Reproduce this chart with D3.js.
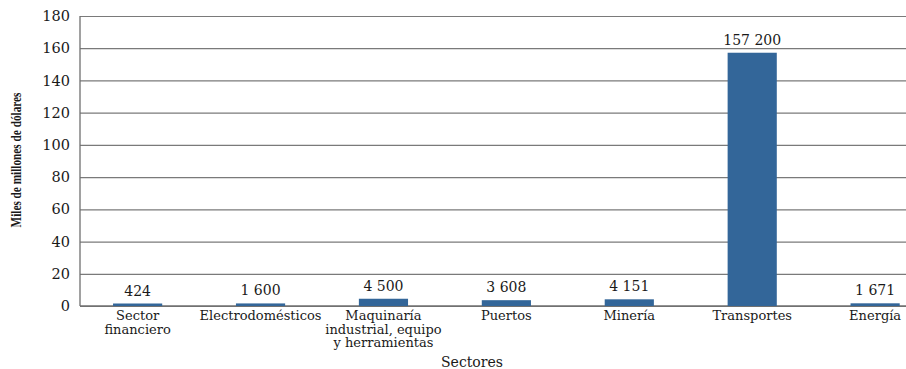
<!DOCTYPE html>
<html>
<head>
<meta charset="utf-8">
<script src="https://cdn.jsdelivr.net/npm/d3@7"></script>
<style>
  body { margin: 0; background: #fff; }
  text { font-family: "DejaVu Serif", serif; fill: #1a1a1a; }
</style>
</head>
<body>
<div id="plot"></div>
<script>
// sectores y montos (millones de dólares)
var sectores = [
  ["Sector", "financiero"],
  ["Electrodomésticos"],
  ["Maquinaría", "industrial, equipo", "y herramientas"],
  ["Puertos"],
  ["Minería"],
  ["Transportes"],
  ["Energía"]
];
var montos = [424, 1600, 4500, 3608, 4151, 157200, 1671];
var etiquetas = ["424", "1 600", "4 500", "3 608", "4 151", "157 200", "1 671"];
var yTicks = [0, 20, 40, 60, 80, 100, 120, 140, 160, 180];

var W = 906, H = 369;
var mLeft = 80, mRight = 906, mTop = 16, mBottom = 306;

var svg = d3.select('#plot').append('svg')
  .attr('width', W).attr('height', H);

var x = d3.scaleBand()
  .domain(d3.range(sectores.length))
  .range([mLeft, mRight])
  .paddingInner(0.6)
  .paddingOuter(0.16)
  .align(0.84);

var y = d3.scaleLinear().domain([0, 180]).range([mBottom, mTop]);

// grid
svg.append('g')
  .attr('transform', 'translate(' + mLeft + ',0)')
  .call(d3.axisLeft(y).tickValues(yTicks).tickSize(-(mRight - mLeft)).tickPadding(10))
  .call(g => g.select('.domain').remove())
  .call(g => g.selectAll('.tick line').attr('stroke', '#7a7a7a').attr('stroke-width', 1.2))
  .call(g => g.selectAll('.tick text').style('font-size', '14.5px').attr('fill', '#1a1a1a'));

// axis lines
svg.append('line').attr('x1', mLeft).attr('x2', mLeft).attr('y1', mTop).attr('y2', mBottom)
  .attr('stroke', '#6f6f6f').attr('stroke-width', 1.3);
svg.append('line').attr('x1', mLeft).attr('x2', mRight).attr('y1', mBottom).attr('y2', mBottom)
  .attr('stroke', '#6f6f6f').attr('stroke-width', 1.3);

// barras
svg.selectAll('rect.bar')
  .data(montos)
  .join('rect')
  .attr('class', 'bar')
  .attr('x', (d, i) => x(i))
  .attr('width', x.bandwidth())
  .attr('y', d => Math.min(y(d / 1000), mBottom - 2.5))
  .attr('height', d => Math.max(mBottom - y(d / 1000), 2.5))
  .attr('fill', '#336699');

// valores
svg.selectAll('text.val')
  .data(montos)
  .join('text')
  .attr('class', 'val')
  .attr('x', (d, i) => x(i) + x.bandwidth() / 2)
  .attr('y', d => Math.min(y(d / 1000), mBottom - 2.5) - 8)
  .attr('text-anchor', 'middle')
  .style('font-size', '14px')
  .text((d, i) => etiquetas[i]);

// categorias (una etiqueta por línea)
svg.selectAll('g.cat')
  .data(sectores)
  .join('g')
  .attr('class', 'cat')
  .selectAll('text')
  .data((d, i) => d.map(t => ({ t: t, i: i })))
  .join('text')
  .attr('x', d => x(d.i) + x.bandwidth() / 2)
  .attr('y', (d, j) => 320 + j * 13.5)
  .attr('text-anchor', 'middle')
  .style('font-size', '13px')
  .text(d => d.t);

// titulos
svg.append('text')
  .attr('x', 472).attr('y', 367)
  .attr('text-anchor', 'middle')
  .style('font-size', '14px')
  .text('Sectores');

svg.append('text')
  .attr('transform', 'translate(21,160) rotate(-90)')
  .attr('text-anchor', 'middle')
  .attr('textLength', 135)
  .attr('lengthAdjust', 'spacingAndGlyphs')
  .style('font-family', '"Liberation Serif", serif')
  .style('font-weight', 'bold')
  .style('font-size', '15px')
  .text('Miles de millones de dólares');
</script>
</body>
</html>
